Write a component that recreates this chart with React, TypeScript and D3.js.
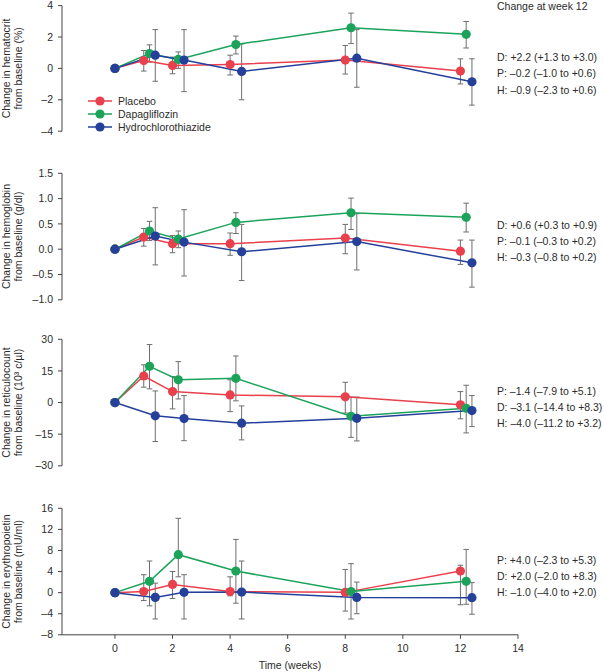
import * as d3 from "d3";

// weeks of the visits; each arm is nudged right so the error bars don't overlap
const weeks = [0, 1, 2, 4, 8, 12];
const armNames = ["Placebo", "Dapagliflozin", "Hydrochlorothiazide"];
const armColors = ["#e8414d", "#1ba35a", "#24409a"];
const armShift = [0, 0.2, 0.4];

// [mean, lower, upper] per visit
const hctP = [[0, 0, 0], [0.5, -0.17, 1.14], [0.19, -0.34, 0.72], [0.25, -0.42, 0.84], [0.53, -0.36, 1.46], [-0.17, -0.99, 0.61]];
const hctD = [[0, 0, 0], [0.95, 0.4, 1.5], [0.57, 0.0, 1.05], [1.52, 0.92, 2.06], [2.59, 1.58, 3.52], [2.17, 1.3, 2.99]];
const hctH = [[0, 0, 0], [0.84, -0.82, 2.47], [0.53, -1.48, 2.47], [-0.19, -2.0, 1.56], [0.65, -1.2, 2.47], [-0.85, -2.34, 0.61]];

const hbP = [[0, 0, 0], [0.24, 0.06, 0.41], [0.11, -0.07, 0.27], [0.11, -0.12, 0.32], [0.22, -0.09, 0.49], [-0.04, -0.3, 0.18]];
const hbD = [[0, 0, 0], [0.36, 0.17, 0.55], [0.2, 0.03, 0.36], [0.53, 0.31, 0.72], [0.72, 0.39, 1.01], [0.63, 0.34, 0.91]];
const hbH = [[0, 0, 0], [0.26, -0.31, 0.82], [0.14, -0.53, 0.78], [-0.05, -0.62, 0.49], [0.15, -0.41, 0.7], [-0.27, -0.75, 0.18]];

const retP = [[0, 0, 0], [12.6, 7.3, 17.9], [5.2, -3.0, 12.3], [3.6, -4.3, 10.8], [2.7, -5.0, 9.6], [-1.1, -7.7, 5.2]];
const retD = [[0, 0, 0], [17.2, 6.5, 27.5], [10.8, 1.7, 19.4], [11.5, 0.8, 22.1], [-6.5, -16.5, 2.6], [-2.7, -14.4, 8.2]];
const retH = [[0, 0, 0], [-6.3, -18.5, 5.5], [-7.6, -18.1, 3.3], [-9.8, -17.7, -1.6], [-7.5, -18.2, 2.6], [-3.8, -11.4, 3.3]];

const epoP = [[0, 0, 0], [0.2, -1.5, 3.4], [1.55, -1.1, 4.0], [0.2, -0.6, 3.0], [0.05, -3.5, 4.4], [4.1, -2.3, 5.2]];
const epoD = [[0, 0, 0], [2.15, -2.5, 6.0], [7.2, 3.0, 14.1], [4.1, -2.0, 10.1], [0.2, -5.0, 5.5], [2.15, -2.2, 8.2]];
const epoH = [[0, 0, 0], [-0.9, -5.0, 1.8], [0.05, -5.0, 3.4], [0.1, -5.0, 6.0], [-0.9, -4.0, 2.0], [-0.95, -4.1, 1.9]];

const hctTicks = [-4, -2, 0, 2, 4];
const hbTicks = [-1.0, -0.5, 0.0, 0.5, 1.0, 1.5];
const retTicks = [-30, -15, 0, 15, 30];
const epoTicks = [-8, -4, 0, 4, 8, 12, 16];
const xTicks = [0, 2, 4, 6, 8, 10, 12, 14];

const hctNotes = ["D: +2.2 (+1.3 to +3.0)", "P: \u20130.2 (\u20131.0 to +0.6)", "H: \u20130.9 (\u20132.3 to +0.6)"];
const hbNotes = ["D: +0.6 (+0.3 to +0.9)", "P: \u20130.1 (\u20130.3 to +0.2)", "H: \u20130.3 (\u20130.8 to +0.2)"];
const retNotes = ["P: \u20131.4 (\u20137.9 to +5.1)", "D: \u20133.1 (\u201314.4 to +8.3)", "H: \u20134.0 (\u201311.2 to +3.2)"];
const epoNotes = ["P: +4.0 (\u20132.3 to +5.3)", "D: +2.0 (\u20132.0 to +8.3)", "H: \u20131.0 (\u20134.0 to +2.0)"];

const panels = [
  { lines: ["Change in hematocrit", "from baseline (%)"], ticks: hctTicks, digits: 0, arms: [hctP, hctD, hctH], notes: hctNotes },
  { lines: ["Change in hemoglobin", "from baseline (g/dl)"], ticks: hbTicks, digits: 1, arms: [hbP, hbD, hbH], notes: hbNotes },
  { lines: ["Change in reticulocount", "from baseline (10\u00b3 c/\u00b5l)"], ticks: retTicks, digits: 0, arms: [retP, retD, retH], notes: retNotes },
  { lines: ["Change in erythropoietin", "from baseline (mU/ml)"], ticks: epoTicks, digits: 0, arms: [epoP, epoD, epoH], notes: epoNotes },
];

const W = 604;
const H = 672;
const font = "'Liberation Sans', Arial, sans-serif";
const ink = "#2b2b2b";
const axisInk = "#444";
const barInk = "#6e6e6e";
const panelTops = [5.6, 173.3, 339.3, 508.3];
const panelH = 126.5;

const x = d3.scaleLinear().domain([-1.84, 14]).range([62, 518]);

const fmt = (digits: number) => (v: number) => {
  const s = Math.abs(v).toFixed(digits);
  return v < 0 ? "\u2013" + s : s;
};

function Panel({ idx }: { idx: number }) {
  const p = panels[idx];
  const top = panelTops[idx];
  const hgt = idx === 0 ? panelH - 0.9 : panelH;
  const y = d3
    .scaleLinear()
    .domain([p.ticks[0], p.ticks[p.ticks.length - 1]])
    .range([top + hgt, top]);
  const f = fmt(p.digits);
  const line = d3
    .line<number[]>()
    .x((d) => d[0])
    .y((d) => d[1]);
  const pts = p.arms.map((arm, a) =>
    arm.map((v, i) => ({
      wx: x(weeks[i] === 0 ? 0 : weeks[i] + armShift[a]),
      m: y(v[0]),
      lo: y(v[1]),
      hi: y(v[2]),
      bar: v[1] !== v[2],
    }))
  );
  const cx = 62;
  const midY = top + hgt / 2;
  return (
    <g>
      {/* y axis */}
      <line x1={cx} x2={cx} y1={y.range()[0]} y2={y.range()[1]} stroke={axisInk} strokeWidth={1} />
      {p.ticks.map((t) => (
        <g key={t}>
          <line x1={cx - 4} x2={cx} y1={y(t)} y2={y(t)} stroke={axisInk} strokeWidth={1} />
          <text x={cx - 9} y={y(t)} dy="0.35em" textAnchor="end" fontSize={10.5} fill={ink}>
            {f(t)}
          </text>
        </g>
      ))}
      <text transform={`translate(9.5,${midY}) rotate(-90)`} textAnchor="middle" fontSize={10.5} fill={ink}>
        {p.lines[0]}
      </text>
      <text transform={`translate(22,${midY}) rotate(-90)`} textAnchor="middle" fontSize={10.5} fill={ink}>
        {p.lines[1]}
      </text>

      {/* error bars */}
      {pts.map((arm, a) =>
        arm
          .filter((d) => d.bar)
          .map((d, i) => (
            <g key={`e${a}-${i}`} stroke={barInk} strokeWidth={1}>
              <line x1={d.wx} x2={d.wx} y1={d.lo} y2={d.hi} />
              <line x1={d.wx - 2.8} x2={d.wx + 2.8} y1={d.lo} y2={d.lo} />
              <line x1={d.wx - 2.8} x2={d.wx + 2.8} y1={d.hi} y2={d.hi} />
            </g>
          ))
      )}
      {/* lines */}
      {pts.map((arm, a) => (
        <path
          key={`l${a}`}
          d={line(arm.map((d) => [d.wx, d.m])) ?? ""}
          fill="none"
          stroke={armColors[a]}
          strokeWidth={1.5}
        />
      ))}
      {/* markers */}
      {pts.map((arm, a) =>
        arm.map((d, i) => <circle key={`m${a}-${i}`} cx={d.wx} cy={d.m} r={4.6} fill={armColors[a]} />)
      )}

      {/* change at week 12 */}
      {p.notes.map((n, i) => (
        <text key={n} x={497} y={top + 52 + i * 16.2} dy="0.35em" fontSize={10.5} fill={ink}>
          {n}
        </text>
      ))}
    </g>
  );
}

export default function App() {
  const axisY = panelTops[3] + panelH;
  return (
    <div style={{ position: "absolute", left: 0, top: 0 }}>
      <svg width={W} height={H} style={{ display: "block", background: "#fff", fontFamily: font }}>
        {panels.map((_, i) => (
          <Panel key={i} idx={i} />
        ))}

        {/* x axis, bottom panel only */}
        <line x1={x.range()[0]} x2={x.range()[1]} y1={axisY} y2={axisY} stroke={axisInk} strokeWidth={1} />
        {xTicks.map((t) => (
          <g key={t}>
            <line x1={x(t)} x2={x(t)} y1={axisY} y2={axisY + 4} stroke={axisInk} strokeWidth={1} />
            <text x={x(t)} y={axisY + 14} dy="0.35em" textAnchor="middle" fontSize={10.5} fill={ink}>
              {t}
            </text>
          </g>
        ))}
        <text x={(x.range()[0] + x.range()[1]) / 2} y={669} textAnchor="middle" fontSize={10.5} fill={ink}>
          Time (weeks)
        </text>

        <text x={497} y={6.5} dy="0.35em" fontSize={10.5} fill={ink}>
          Change at week 12
        </text>

        {/* legend */}
        {armNames.map((name, i) => (
          <g key={name} transform={`translate(0,${101 + i * 13})`}>
            <line x1={88} x2={112} y1={0} y2={0} stroke={armColors[i]} strokeWidth={1.5} />
            <circle cx={100} cy={0} r={4.6} fill={armColors[i]} />
            <text x={118} y={0} dy="0.35em" fontSize={10.5} fill={ink}>
              {name}
            </text>
          </g>
        ))}
      </svg>
    </div>
  );
}
